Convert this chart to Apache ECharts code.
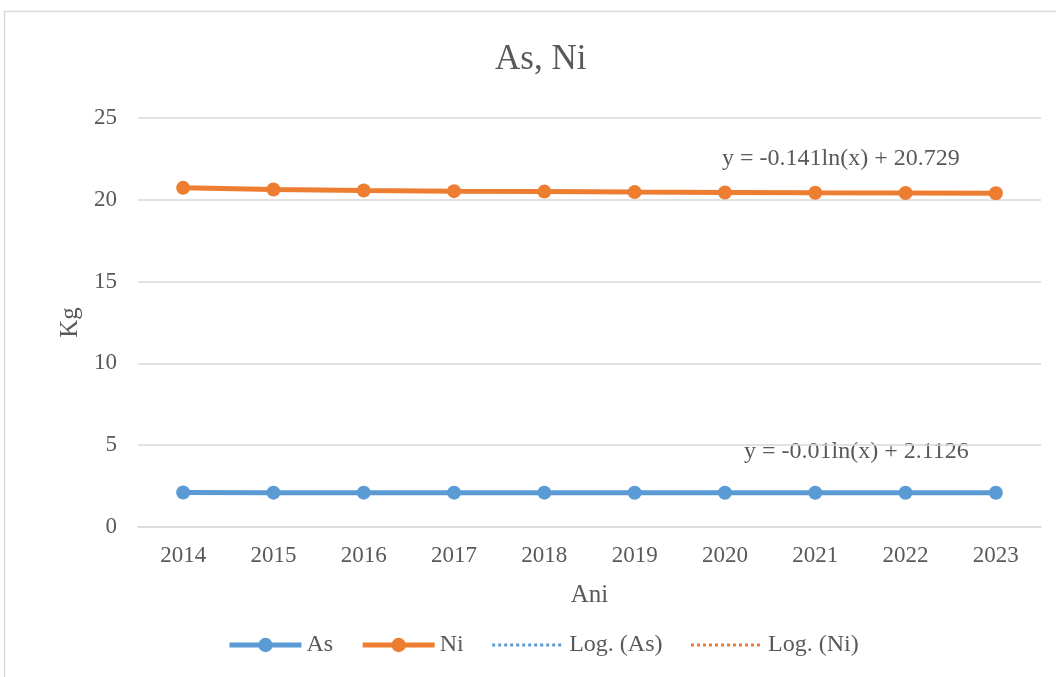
<!DOCTYPE html>
<html>
<head>
<meta charset="utf-8">
<script src="https://cdn.jsdelivr.net/npm/echarts@6/dist/echarts.min.js"></script>
<style>
  html, body { margin: 0; padding: 0; background: #fff; }
  #chart { width: 1056px; height: 677px; }
</style>
</head>
<body>
<div id="chart"></div>
<script>
const years = ['2014', '2015', '2016', '2017', '2018', '2019', '2020', '2021', '2022', '2023'];
const asValues = [2.11, 2.10, 2.10, 2.10, 2.10, 2.09, 2.09, 2.09, 2.09, 2.09];
const niValues = [20.73, 20.63, 20.57, 20.53, 20.50, 20.47, 20.45, 20.43, 20.42, 20.40];
const asTrend = [2.11, 2.11, 2.10, 2.10, 2.10, 2.09, 2.09, 2.09, 2.09, 2.09];
const niTrend = [20.73, 20.63, 20.57, 20.53, 20.50, 20.48, 20.46, 20.44, 20.42, 20.40];
const asEquation = 'y = -0.01ln(x) + 2.1126';
const niEquation = 'y = -0.141ln(x) + 20.729';

const font = '"Liberation Serif", "DejaVu Serif", serif';
const textColor = '#595959';
const gridColor = '#d9d9d9';
const asColor = '#5B9BD5';
const niColor = '#ED7D31';

const chart = echarts.init(document.getElementById('chart'));

const option = {
  backgroundColor: '#fff',
  textStyle: { fontFamily: font },
  title: {
    text: 'As, Ni',
    left: 490,
    top: 37,
    textStyle: { fontFamily: font, fontSize: 35, fontWeight: 'normal', color: textColor }
  },
  grid: { left: 138, right: 15, top: 118, bottom: 150 },
  legend: {
    bottom: 15,
    left: 222,
    itemWidth: 72,
    itemHeight: 18,
    itemGap: 27,
    textStyle: { fontFamily: font, fontSize: 24, color: textColor },
    data: [
      { name: 'As', lineStyle: { width: 5 } },
      { name: 'Ni', lineStyle: { width: 5 } },
      { name: 'Log. (As)', itemStyle: { opacity: 0 }, lineStyle: { width: 3, type: 'dotted' } },
      { name: 'Log. (Ni)', itemStyle: { opacity: 0 }, lineStyle: { width: 3, type: 'dotted' } }
    ]
  },
  xAxis: {
    type: 'category',
    data: years,
    name: 'Ani',
    nameLocation: 'middle',
    nameGap: 56,
    nameTextStyle: { fontFamily: font, fontSize: 25, color: textColor },
    axisLine: { lineStyle: { color: gridColor, width: 1.5 } },
    axisTick: { show: false },
    axisLabel: { fontFamily: font, fontSize: 23, color: textColor, margin: 17 }
  },
  yAxis: {
    type: 'value',
    min: 0,
    max: 25,
    interval: 5,
    name: 'Kg',
    nameLocation: 'middle',
    nameGap: 51,
    nameTextStyle: { fontFamily: font, fontSize: 25, color: textColor },
    axisLine: { show: false },
    axisTick: { show: false },
    axisLabel: { fontFamily: font, fontSize: 23, color: textColor, margin: 21 },
    splitLine: { lineStyle: { color: gridColor, width: 1.5 } }
  },
  series: [
    {
      name: 'Log. (As)',
      type: 'line',
      data: asTrend,
      symbol: 'none',
      z: 1,
      lineStyle: { color: asColor, width: 2.5, type: 'dotted' },
      itemStyle: { color: asColor }
    },
    {
      name: 'Log. (Ni)',
      type: 'line',
      data: niTrend,
      symbol: 'none',
      z: 1,
      lineStyle: { color: niColor, width: 2.5, type: 'dotted' },
      itemStyle: { color: niColor }
    },
    {
      name: 'As',
      type: 'line',
      data: asValues,
      symbol: 'circle',
      symbolSize: 14,
      z: 3,
      lineStyle: { color: asColor, width: 5 },
      itemStyle: { color: asColor }
    },
    {
      name: 'Ni',
      type: 'line',
      data: niValues,
      symbol: 'circle',
      symbolSize: 14,
      z: 3,
      lineStyle: { color: niColor, width: 5 },
      itemStyle: { color: niColor }
    }
  ],
  graphic: [
    {
      type: 'rect',
      silent: true,
      shape: { x: 4.5, y: 11.5, width: 1060, height: 680 },
      style: { fill: 'none', stroke: gridColor, lineWidth: 1.5 }
    },
    {
      type: 'text',
      left: 722,
      top: 147,
      style: { text: niEquation, font: '24px ' + font, fill: textColor }
    },
    {
      type: 'text',
      left: 744,
      top: 440,
      style: { text: asEquation, font: '24px ' + font, fill: textColor }
    }
  ]
};

chart.setOption(option);
</script>
</body>
</html>
